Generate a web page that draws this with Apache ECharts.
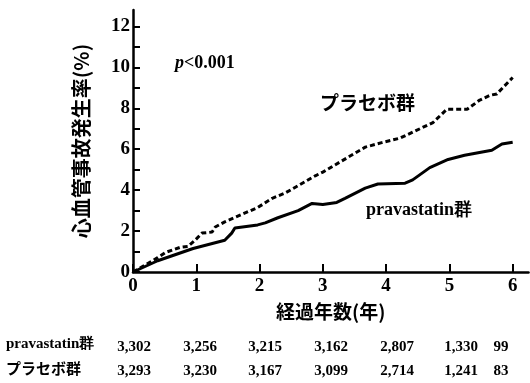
<!DOCTYPE html>
<html>
<head>
<meta charset="utf-8">
<script src="https://cdn.jsdelivr.net/npm/echarts@6/dist/echarts.min.js"></script>
<style>html,body{margin:0;padding:0;background:#fff;}#c{width:530px;height:383px;}</style>
</head>
<body>
<div id="c"></div>
<script>
// Solid line: pravastatin group (years, cumulative event rate %)
var pravaYears = [0, 0.39, 0.95, 1.45, 1.56, 1.61, 1.97, 2.09, 2.29, 2.61, 2.83, 3.0, 3.22, 3.35, 3.67, 3.87, 4.3, 4.42, 4.69, 4.98, 5.24, 5.67, 5.83, 6.0];
var pravaRates = [0, 0.55, 1.15, 1.55, 1.9, 2.15, 2.3, 2.4, 2.65, 3.0, 3.35, 3.3, 3.4, 3.6, 4.1, 4.3, 4.34, 4.5, 5.1, 5.5, 5.7, 5.95, 6.25, 6.34];
// Dashed line: placebo group
var placeboYears = [0, 0.39, 0.51, 0.74, 0.87, 0.98, 1.09, 1.25, 1.3, 1.45, 1.97, 2.2, 2.4, 2.88, 3.0, 3.67, 3.93, 4.22, 4.74, 4.96, 5.28, 5.48, 5.64, 5.75, 6.0];
var placeboRates = [0, 0.7, 0.95, 1.2, 1.25, 1.55, 1.9, 1.95, 2.2, 2.45, 3.15, 3.6, 3.85, 4.7, 4.88, 6.1, 6.32, 6.54, 7.3, 7.95, 7.95, 8.4, 8.63, 8.7, 9.5];
// Axis ticks
var xTickValues = [0, 1, 2, 3, 4, 5, 6];
var yTickValues = [0, 1, 2, 3, 4, 5, 6, 7, 8, 9, 10, 11, 12];
var yLabelValues = [0, 2, 4, 6, 8, 10, 12];
// Number at risk table
var riskRowNames = ['pravastatin群', 'プラセボ群'];
var pravaAtRisk = ['3,302', '3,256', '3,215', '3,162', '2,807', '1,330', '99'];
var placeboAtRisk = ['3,293', '3,230', '3,167', '3,099', '2,714', '1,241', '83'];

function pairs(xs, ys) { return xs.map(function (x, i) { return [x, ys[i]]; }); }

var serif = '"Liberation Serif", "DejaVu Serif", serif';
var cjk = '"Noto Sans CJK JP", sans-serif';

var chart = echarts.init(document.getElementById('c'), null, { renderer: 'canvas' });

var tableX = [134, 200, 265, 331, 397, 461, 501];
var graphics = [];
graphics.push({ type: 'text', left: 175, top: 54, style: {
  text: '{i|p}{n|<0.001}',
  rich: {
    i: { fontFamily: serif, fontWeight: 'bold', fontStyle: 'italic', fontSize: 18, fill: '#000' },
    n: { fontFamily: serif, fontWeight: 'bold', fontSize: 18, fill: '#000' }
  }
} });
graphics.push({ type: 'text', left: 320, top: 93, style: { text: 'プラセボ群', font: 'bold 19px ' + cjk, fill: '#000' } });
graphics.push({ type: 'text', left: 366, top: 201, style: { text: 'pravastatin群', font: 'bold 18px ' + serif, fill: '#000' } });
graphics.push({ type: 'text', left: 6, top: 337, style: { text: riskRowNames[0], font: 'bold 15px ' + serif, fill: '#000' } });
graphics.push({ type: 'text', left: 6, top: 361, style: { text: riskRowNames[1], font: 'bold 15px ' + cjk, fill: '#000' } });
for (var i = 0; i < pravaAtRisk.length; i++) {
  graphics.push({ type: 'text', x: tableX[i], y: 347, style: { text: pravaAtRisk[i], font: 'bold 15px ' + serif, fill: '#000', textAlign: 'center', textVerticalAlign: 'middle' } });
  graphics.push({ type: 'text', x: tableX[i], y: 371, style: { text: placeboAtRisk[i], font: 'bold 15px ' + serif, fill: '#000', textAlign: 'center', textVerticalAlign: 'middle' } });
}

chart.setOption({
  animation: false,
  backgroundColor: '#fff',
  grid: { left: 133, right: 1.5, top: 10, bottom: 111, containLabel: false },
  xAxis: {
    type: 'value', min: 0, max: 6.25,
    name: '経過年数(年)', nameLocation: 'middle', nameGap: 30,
    nameTextStyle: { fontFamily: cjk, fontWeight: 'bold', fontSize: 19, color: '#000' },
    axisLine: { show: true, onZero: false, lineStyle: { color: '#000', width: 2.5 } },
    axisTick: { show: true, inside: true, length: 8, customValues: xTickValues, lineStyle: { color: '#000', width: 2 } },
    axisLabel: { customValues: xTickValues, margin: 5, fontFamily: serif, fontWeight: 'bold', fontSize: 19, color: '#000' },
    splitLine: { show: false }
  },
  yAxis: {
    type: 'value', min: 0, max: 12.8,
    name: '心血管事故発生率(%)', nameLocation: 'middle', nameGap: 42, nameRotate: 90,
    nameTextStyle: { fontFamily: cjk, fontWeight: 'bold', fontSize: 20, color: '#000' },
    axisLine: { show: true, lineStyle: { color: '#000', width: 2.5 } },
    axisTick: { show: true, inside: true, length: 7, customValues: yTickValues, lineStyle: { color: '#000', width: 2 } },
    axisLabel: { customValues: yLabelValues, margin: 3, fontFamily: serif, fontWeight: 'bold', fontSize: 19, color: '#000' },
    splitLine: { show: false }
  },
  series: [
    {
      name: 'pravastatin群', type: 'line', data: pairs(pravaYears, pravaRates),
      showSymbol: false, symbol: 'none', smooth: false,
      lineStyle: { color: '#000', width: 3, type: 'solid' }
    },
    {
      name: 'プラセボ群', type: 'line', data: pairs(placeboYears, placeboRates),
      showSymbol: false, symbol: 'none', smooth: false,
      lineStyle: { color: '#000', width: 3, type: [5, 3] }
    }
  ],
  graphic: graphics
});
</script>
</body>
</html>
